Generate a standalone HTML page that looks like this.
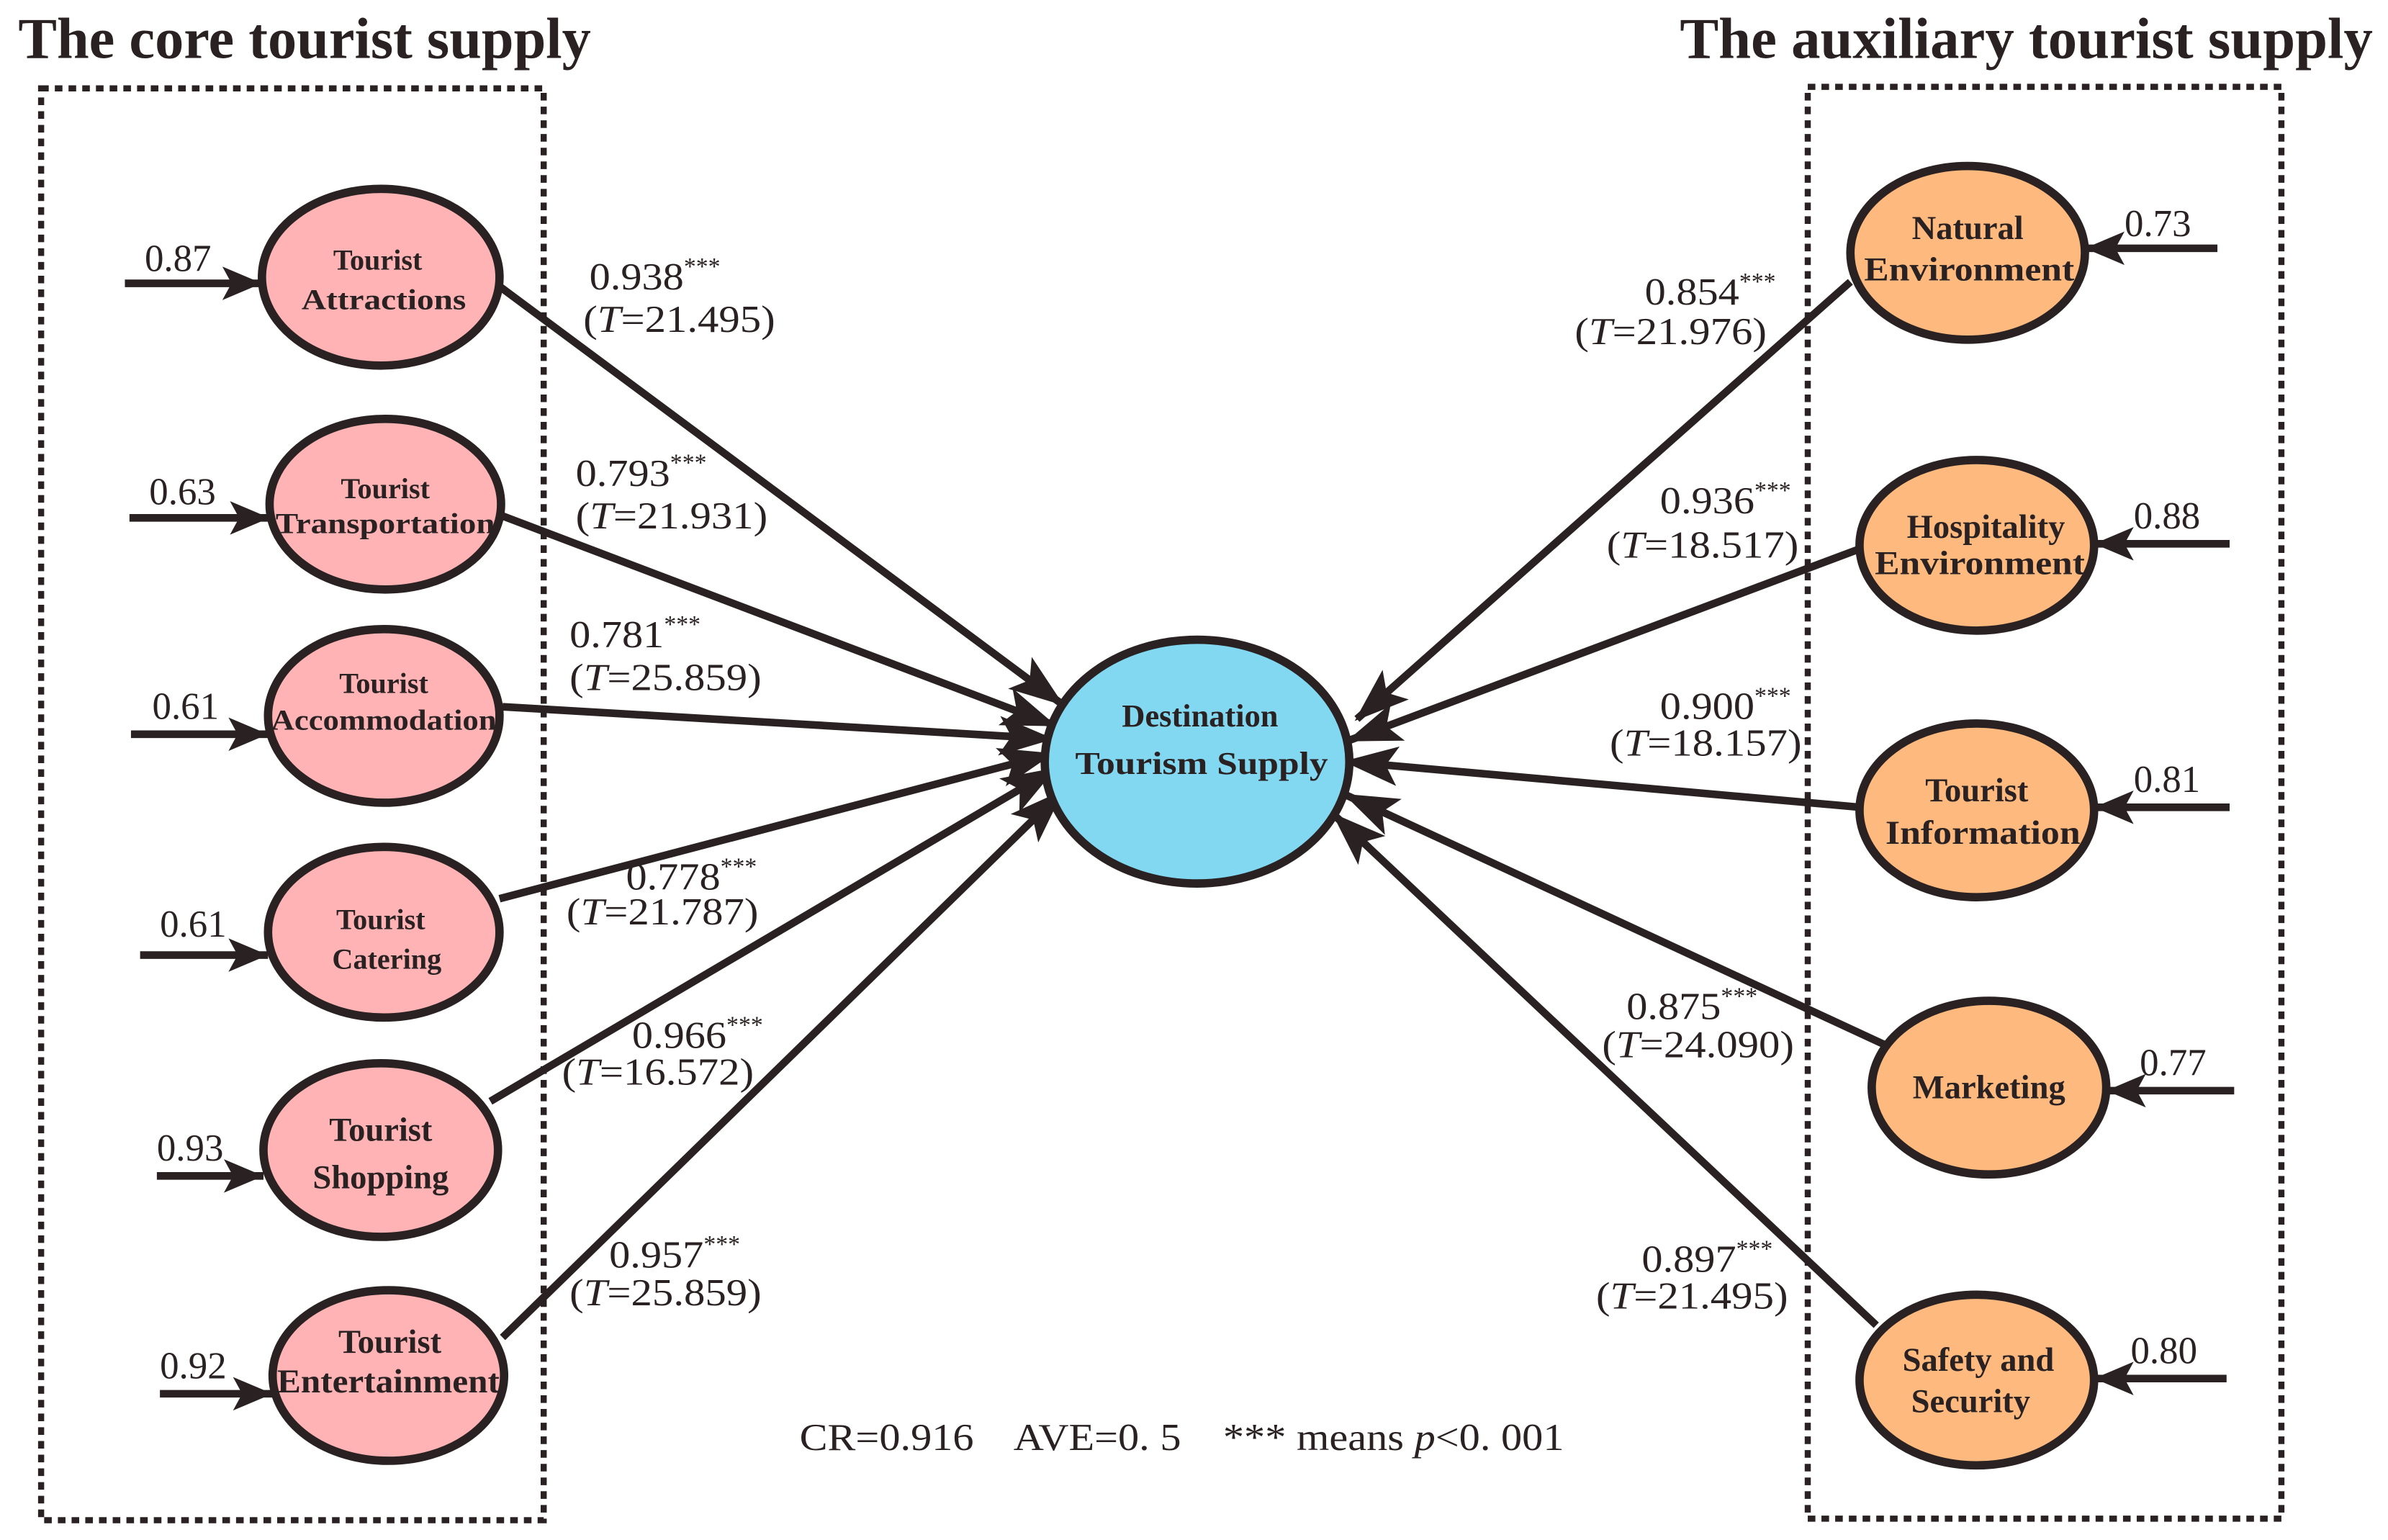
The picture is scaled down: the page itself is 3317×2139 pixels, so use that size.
<!DOCTYPE html>
<html><head><meta charset="utf-8"><style>
html,body{margin:0;padding:0;background:#fff;}
svg{display:block;}
text{font-family:"Liberation Serif",serif;fill:#2a2222;}
.t{font-size:38px;font-weight:bold;}
.n{font-size:19px;font-weight:bold;text-anchor:middle;}
.v{font-size:25px;}
.s{font-size:16px;}
</style></head><body>
<svg width="3317" height="2139" viewBox="0 0 1568 1011" preserveAspectRatio="none" xmlns="http://www.w3.org/2000/svg">
<defs>
<marker id="a" markerUnits="userSpaceOnUse" markerWidth="40" markerHeight="30" refX="34" refY="13" orient="auto">
<path d="M0,0 L36,13 L0,26 L8,13 Z" fill="#2a2222"/>
</marker>
<marker id="e" markerUnits="userSpaceOnUse" markerWidth="30" markerHeight="26" refX="26" refY="11" orient="auto">
<path d="M0,0 L26,11 L0,22 L6,11 Z" fill="#2a2222"/>
</marker>
</defs>
<text class="t" x="12" y="38" textLength="376" lengthAdjust="spacingAndGlyphs">The core tourist supply</text>
<text class="t" x="1103" y="38" textLength="455" lengthAdjust="spacingAndGlyphs">The auxiliary tourist supply</text>
<rect x="27" y="58" width="330" height="940" fill="none" stroke="#2a2222" stroke-width="4" stroke-dasharray="5,4"/>
<rect x="1187" y="57" width="311" height="940" fill="none" stroke="#2a2222" stroke-width="4" stroke-dasharray="5,4"/>
<g stroke="#2a2222" stroke-width="5" fill="none">
<line x1="328" y1="188" x2="697" y2="462" marker-end="url(#a)"/>
<line x1="328" y1="338" x2="692" y2="476" marker-end="url(#a)"/>
<line x1="330" y1="464" x2="690" y2="485" marker-end="url(#a)"/>
<line x1="328" y1="590" x2="690" y2="495" marker-end="url(#a)"/>
<line x1="322" y1="723" x2="692" y2="505" marker-end="url(#a)"/>
<line x1="330" y1="878" x2="697" y2="520" marker-end="url(#a)"/>
<line x1="1215" y1="185" x2="891" y2="472" marker-end="url(#a)"/>
<line x1="1222" y1="360" x2="886" y2="486" marker-end="url(#a)"/>
<line x1="1222" y1="530" x2="884" y2="500" marker-end="url(#a)"/>
<line x1="1240" y1="687" x2="884" y2="522" marker-end="url(#a)"/>
<line x1="1232" y1="870" x2="876" y2="535" marker-end="url(#a)"/>
<line x1="82" y1="186" x2="172" y2="186" marker-end="url(#e)"/>
<line x1="85" y1="340" x2="177" y2="340" marker-end="url(#e)"/>
<line x1="86" y1="482" x2="176" y2="482" marker-end="url(#e)"/>
<line x1="92" y1="627" x2="176" y2="627" marker-end="url(#e)"/>
<line x1="103" y1="772" x2="173" y2="772" marker-end="url(#e)"/>
<line x1="105" y1="915" x2="179" y2="915" marker-end="url(#e)"/>
<line x1="1456" y1="163" x2="1369" y2="163" marker-end="url(#e)"/>
<line x1="1464" y1="357" x2="1375" y2="357" marker-end="url(#e)"/>
<line x1="1464" y1="530" x2="1375" y2="530" marker-end="url(#e)"/>
<line x1="1467" y1="716" x2="1383" y2="716" marker-end="url(#e)"/>
<line x1="1462" y1="905" x2="1375" y2="905" marker-end="url(#e)"/>
</g>
<g stroke="#2a2222" stroke-width="5.5">
<ellipse cx="250" cy="182" rx="78" ry="58" fill="#ffb3b5"/>
<ellipse cx="253" cy="331" rx="76" ry="56" fill="#ffb3b5"/>
<ellipse cx="252" cy="470" rx="76" ry="57" fill="#ffb3b5"/>
<ellipse cx="252" cy="612" rx="76" ry="56" fill="#ffb3b5"/>
<ellipse cx="250" cy="755" rx="77" ry="57" fill="#ffb3b5"/>
<ellipse cx="255" cy="903" rx="76" ry="56" fill="#ffb3b5"/>
<ellipse cx="786" cy="500" rx="100" ry="80" fill="#82d8f0"/>
<ellipse cx="1292" cy="166" rx="77" ry="57" fill="#fdb97e"/>
<ellipse cx="1298" cy="358" rx="77" ry="56" fill="#fdb97e"/>
<ellipse cx="1298" cy="532" rx="77" ry="57" fill="#fdb97e"/>
<ellipse cx="1306" cy="714" rx="77" ry="57" fill="#fdb97e"/>
<ellipse cx="1298" cy="906" rx="77" ry="56" fill="#fdb97e"/>
</g>
<text class="n" x="248" y="177">Tourist</text><text class="n" x="252" y="203" textLength="108" lengthAdjust="spacingAndGlyphs">Attractions</text>
<text class="n" x="253" y="327">Tourist</text><text class="n" x="253" y="350" textLength="144" lengthAdjust="spacingAndGlyphs">Transportation</text>
<text class="n" x="252" y="455">Tourist</text><text class="n" x="252" y="479" textLength="148" lengthAdjust="spacingAndGlyphs">Accommodation</text>
<text class="n" x="250" y="610">Tourist</text><text class="n" x="254" y="636">Catering</text>
<text class="n" x="250" y="749" style="font-size:22px">Tourist</text><text class="n" x="250" y="780" style="font-size:22px">Shopping</text>
<text class="n" x="256" y="888" style="font-size:22px">Tourist</text><text class="n" x="255" y="914" textLength="146" lengthAdjust="spacingAndGlyphs" style="font-size:22px">Entertainment</text>
<text class="n" x="788" y="477" style="font-size:21px">Destination</text><text class="n" x="789" y="508" style="font-size:21px" textLength="166" lengthAdjust="spacingAndGlyphs">Tourism Supply</text>
<text class="n" x="1292" y="157" style="font-size:22px">Natural</text><text class="n" x="1293" y="184" style="font-size:22px" textLength="138" lengthAdjust="spacingAndGlyphs">Environment</text>
<text class="n" x="1304" y="353" style="font-size:22px">Hospitality</text><text class="n" x="1300" y="377" style="font-size:22px" textLength="138" lengthAdjust="spacingAndGlyphs">Environment</text>
<text class="n" x="1298" y="526" style="font-size:22px">Tourist</text><text class="n" x="1302" y="554" style="font-size:22px" textLength="128" lengthAdjust="spacingAndGlyphs">Information</text>
<text class="n" x="1306" y="721" style="font-size:22px">Marketing</text>
<text class="n" x="1299" y="900" style="font-size:22px">Safety and</text><text class="n" x="1294" y="927" style="font-size:22px">Security</text>
<text class="v" x="95" y="178">0.87</text>
<text class="v" x="98" y="331">0.63</text>
<text class="v" x="100" y="472">0.61</text>
<text class="v" x="105" y="615">0.61</text>
<text class="v" x="103" y="762">0.93</text>
<text class="v" x="105" y="905">0.92</text>
<text class="v" x="1395" y="155">0.73</text>
<text class="v" x="1401" y="347">0.88</text>
<text class="v" x="1401" y="520">0.81</text>
<text class="v" x="1405" y="706">0.77</text>
<text class="v" x="1399" y="895">0.80</text>
<text class="v" x="387" y="190" textLength="62" lengthAdjust="spacingAndGlyphs">0.938</text><text class="s" x="449" y="180">***</text><text class="v" x="383" y="218" textLength="126" lengthAdjust="spacingAndGlyphs">(<tspan font-style="italic">T</tspan>=21.495)</text>
<text class="v" x="378" y="319" textLength="62" lengthAdjust="spacingAndGlyphs">0.793</text><text class="s" x="440" y="309">***</text><text class="v" x="378" y="347" textLength="126" lengthAdjust="spacingAndGlyphs">(<tspan font-style="italic">T</tspan>=21.931)</text>
<text class="v" x="374" y="425" textLength="62" lengthAdjust="spacingAndGlyphs">0.781</text><text class="s" x="436" y="415">***</text><text class="v" x="374" y="453" textLength="126" lengthAdjust="spacingAndGlyphs">(<tspan font-style="italic">T</tspan>=25.859)</text>
<text class="v" x="411" y="584" textLength="62" lengthAdjust="spacingAndGlyphs">0.778</text><text class="s" x="473" y="574">***</text><text class="v" x="372" y="607" textLength="126" lengthAdjust="spacingAndGlyphs">(<tspan font-style="italic">T</tspan>=21.787)</text>
<text class="v" x="415" y="688" textLength="62" lengthAdjust="spacingAndGlyphs">0.966</text><text class="s" x="477" y="678">***</text><text class="v" x="369" y="712" textLength="126" lengthAdjust="spacingAndGlyphs">(<tspan font-style="italic">T</tspan>=16.572)</text>
<text class="v" x="400" y="832" textLength="62" lengthAdjust="spacingAndGlyphs">0.957</text><text class="s" x="462" y="822">***</text><text class="v" x="374" y="857" textLength="126" lengthAdjust="spacingAndGlyphs">(<tspan font-style="italic">T</tspan>=25.859)</text>
<text class="v" x="1080" y="200" textLength="62" lengthAdjust="spacingAndGlyphs">0.854</text><text class="s" x="1142" y="190">***</text><text class="v" x="1034" y="226" textLength="126" lengthAdjust="spacingAndGlyphs">(<tspan font-style="italic">T</tspan>=21.976)</text>
<text class="v" x="1090" y="337" textLength="62" lengthAdjust="spacingAndGlyphs">0.936</text><text class="s" x="1152" y="327">***</text><text class="v" x="1055" y="366" textLength="126" lengthAdjust="spacingAndGlyphs">(<tspan font-style="italic">T</tspan>=18.517)</text>
<text class="v" x="1090" y="472" textLength="62" lengthAdjust="spacingAndGlyphs">0.900</text><text class="s" x="1152" y="462">***</text><text class="v" x="1057" y="496" textLength="126" lengthAdjust="spacingAndGlyphs">(<tspan font-style="italic">T</tspan>=18.157)</text>
<text class="v" x="1068" y="669" textLength="62" lengthAdjust="spacingAndGlyphs">0.875</text><text class="s" x="1130" y="659">***</text><text class="v" x="1052" y="694" textLength="126" lengthAdjust="spacingAndGlyphs">(<tspan font-style="italic">T</tspan>=24.090)</text>
<text class="v" x="1078" y="835" textLength="62" lengthAdjust="spacingAndGlyphs">0.897</text><text class="s" x="1140" y="825">***</text><text class="v" x="1048" y="859" textLength="126" lengthAdjust="spacingAndGlyphs">(<tspan font-style="italic">T</tspan>=21.495)</text>
<text class="v" x="525" y="952" style="white-space:pre" textLength="502" lengthAdjust="spacingAndGlyphs">CR=0.916    AVE=0. 5    *** means <tspan font-style="italic">p</tspan>&lt;0. 001</text>
</svg>
</body></html>
